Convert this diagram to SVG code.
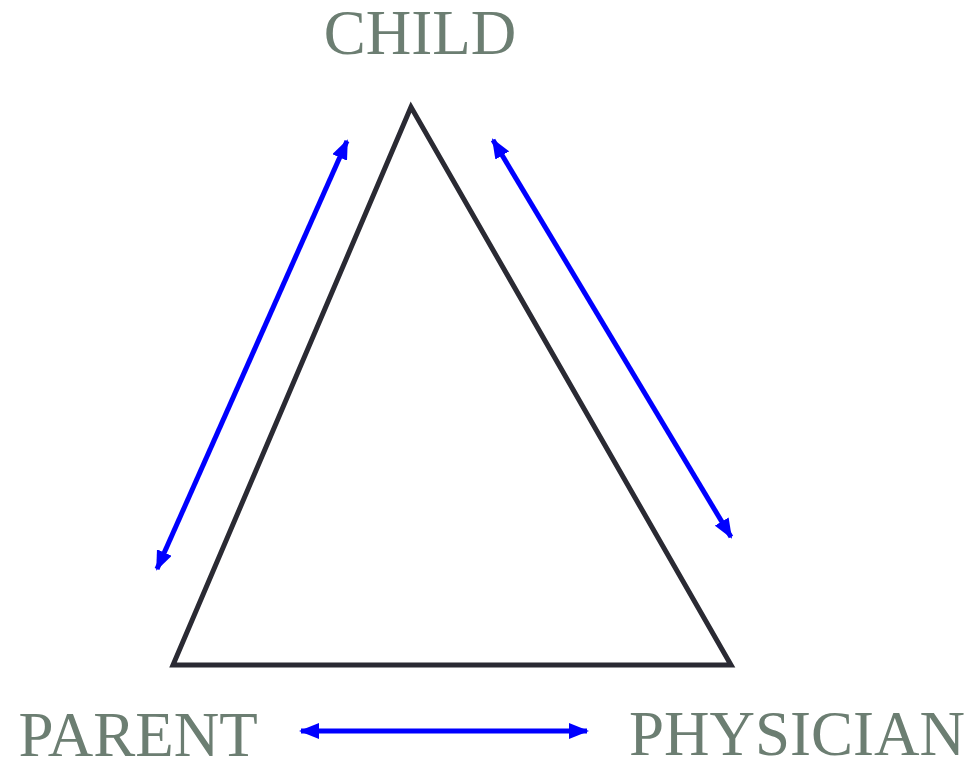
<svg xmlns="http://www.w3.org/2000/svg" width="969" height="761" viewBox="0 0 969 761">
<style>
.lbl{font-family:"Liberation Serif","Times New Roman",serif;font-size:63px;fill:#6c7e72}
.edge{stroke:#0000ff;stroke-width:5;fill:none}
</style>
<defs>
<marker id="ah" markerWidth="4" markerHeight="3.2" refX="3.6" refY="1.6" orient="auto-start-reverse" markerUnits="strokeWidth">
<path d="M0,0 L4,1.6 L0,3.2 Z" fill="#0000ff"/>
</marker>
</defs>
<rect width="969" height="761" fill="#ffffff"/>
<g id="triangle">
<path d="M411,107 L173,665 L731,665 Z" fill="none" stroke="#2a2a33" stroke-width="5" stroke-linejoin="miter"/>
</g>
<g id="child"><text class="lbl" x="420" y="54" text-anchor="middle">CHILD</text></g>
<g id="parent"><text class="lbl" x="138" y="756" text-anchor="middle">PARENT</text></g>
<g id="physician"><text class="lbl" x="797" y="755" text-anchor="middle">PHYSICIAN</text></g>
<g id="connectors">
<line class="edge" x1="157" y1="569" x2="347" y2="141" marker-start="url(#ah)" marker-end="url(#ah)"/>
<line class="edge" x1="493" y1="140" x2="731" y2="537" marker-start="url(#ah)" marker-end="url(#ah)"/>
<line class="edge" x1="301" y1="731" x2="587" y2="731" marker-start="url(#ah)" marker-end="url(#ah)"/>
</g>
</svg>
